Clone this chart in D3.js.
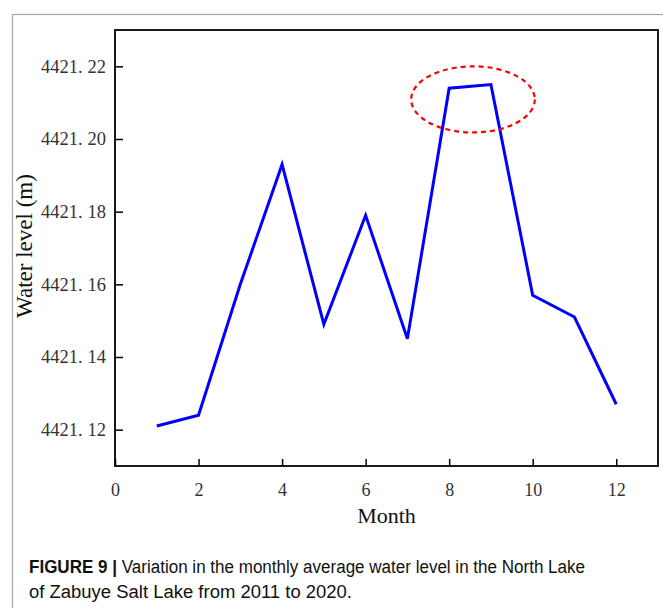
<!DOCTYPE html>
<html>
<head>
<meta charset="utf-8">
<script src="https://cdn.jsdelivr.net/npm/d3@7"></script>
<style>
  html, body { margin: 0; padding: 0; background: #fff; }
  svg { display: block; }
</style>
</head>
<body>
<svg id="chart" width="663" height="608"></svg>
<script>
// Monthly average water level, North Lake of Zabuye Salt Lake (2011-2020)
const months = [1, 2, 3, 4, 5, 6, 7, 8, 9, 10, 11, 12];
const waterLevel = [4421.121, 4421.124, 4421.160, 4421.193, 4421.149, 4421.179,
                    4421.145, 4421.214, 4421.215, 4421.157, 4421.151, 4421.127];
const xTicks = [0, 2, 4, 6, 8, 10, 12];
const yTicks = [4421.12, 4421.14, 4421.16, 4421.18, 4421.20, 4421.22];
const xDomain = [0, 13];
const yDomain = [4421.11, 4421.23];
// highlighted peak (months 8-9): centre and radii in data units
const highlight = { cx: 8.57, cy: 4421.2109, rx: 1.48, ry: 0.0091 };
const captionBold = "FIGURE 9 | ";
const captionLine1 = "Variation in the monthly average water level in the North Lake";
const captionLine2 = "of Zabuye Salt Lake from 2011 to 2020.";

const svg = d3.select("#chart");
const m = { left: 115, top: 30, right: 658, bottom: 466 };

// outer figure frame
svg.append("rect")
  .attr("x", 12.5).attr("y", 14.5).attr("width", 660).attr("height", 640)
  .attr("fill", "none").attr("stroke", "#a8a8a8").attr("stroke-width", 1.2);

const x = d3.scaleLinear().domain(xDomain).range([m.left, m.right]);
const y = d3.scaleLinear().domain(yDomain).range([m.bottom, m.top]);

const serif = "'Liberation Serif', 'DejaVu Serif', serif";

// x axis (ticks pointing inward)
const xAxis = svg.append("g")
  .attr("transform", `translate(0,${m.bottom})`)
  .call(d3.axisBottom(x).tickValues(xTicks).tickSize(-7).tickPadding(17).tickFormat(d3.format("d")));
xAxis.select(".domain").remove();
xAxis.selectAll("line").attr("stroke", "#000").attr("stroke-width", 1.5);
xAxis.selectAll("text").attr("font-family", serif).attr("font-size", 18).attr("fill", "#333");

// y axis (ticks pointing inward)
const yAxis = svg.append("g")
  .attr("transform", `translate(${m.left},0)`)
  .call(d3.axisLeft(y).tickValues(yTicks).tickSize(-8).tickPadding(9).tickFormat(() => ""));
yAxis.select(".domain").remove();
yAxis.selectAll("line").attr("stroke", "#000").attr("stroke-width", 1.5);
yAxis.selectAll(".tick text")
  .attr("font-family", serif).attr("font-size", 18.5).attr("fill", "#333")
  .each(function(d) {
    const s = d3.format(".2f")(d).split(".");
    const t = d3.select(this);
    t.append("tspan").text(s[0] + ".");
    t.append("tspan").attr("dx", 5).text(s[1]);
  });

// plot frame
svg.append("rect")
  .attr("x", m.left).attr("y", m.top)
  .attr("width", m.right - m.left).attr("height", m.bottom - m.top)
  .attr("fill", "none").attr("stroke", "#000").attr("stroke-width", 1.8);

// data line
const line = d3.line().x((d, i) => x(months[i])).y(d => y(d));
svg.append("path")
  .datum(waterLevel)
  .attr("d", line)
  .attr("fill", "none")
  .attr("stroke", "#0000ff")
  .attr("stroke-width", 3)
  .attr("stroke-linejoin", "miter");

// dashed ellipse around the peak
svg.append("ellipse")
  .attr("cx", x(highlight.cx)).attr("cy", y(highlight.cy))
  .attr("rx", x(highlight.cx + highlight.rx) - x(highlight.cx))
  .attr("ry", y(highlight.cy) - y(highlight.cy + highlight.ry))
  .attr("fill", "none").attr("stroke", "#ff0000")
  .attr("stroke-width", 2.2).attr("stroke-dasharray", "5,4");

// axis titles
svg.append("text")
  .attr("x", (m.left + m.right) / 2 - 0).attr("y", 523)
  .attr("text-anchor", "middle")
  .attr("font-family", serif).attr("font-size", 22).attr("fill", "#111")
  .text("Month");

svg.append("text")
  .attr("transform", `translate(32,${(m.top + m.bottom) / 2 - 2}) rotate(-90)`)
  .attr("text-anchor", "middle")
  .attr("font-family", serif).attr("font-size", 23).attr("fill", "#111")
  .text("Water level (m)");

// caption
const sans = "'Liberation Sans', Arial, Helvetica, sans-serif";
const cap1 = svg.append("text")
  .attr("x", 29).attr("y", 573)
  .attr("font-family", sans).attr("font-size", 18).attr("fill", "#111")
  .attr("textLength", 556).attr("lengthAdjust", "spacingAndGlyphs");
cap1.append("tspan").attr("font-weight", "bold").text(captionBold);
cap1.append("tspan").text(captionLine1);

svg.append("text")
  .attr("x", 29).attr("y", 598)
  .attr("font-family", sans).attr("font-size", 18).attr("fill", "#111")
  .attr("textLength", 323).attr("lengthAdjust", "spacingAndGlyphs")
  .text(captionLine2);
</script>
</body>
</html>
